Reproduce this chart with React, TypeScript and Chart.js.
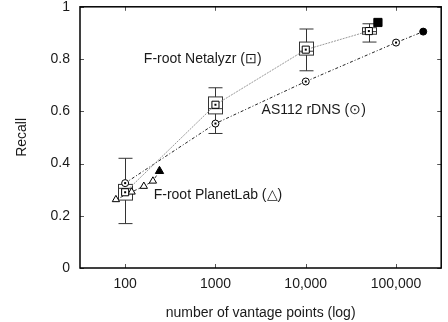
import React, { useEffect, useRef } from 'react';
import { Chart, registerables } from 'chart.js';

Chart.register(...registerables);

// ---- data ----
const xTickValues = [100, 1000, 10000, 100000];
const xTickLabels = ['100', '1000', '10,000', '100,000'];
const yTickValues = [0, 0.2, 0.4, 0.6, 0.8, 1];
const yTickLabels = ['0', '0.2', '0.4', '0.6', '0.8', '1'];

// F-root Netalyzr (box plots + mean marker)
const netalyzrX = [100, 1000, 10000, 50000];
const netalyzrMean = [0.29, 0.625, 0.836, 0.907];
const netalyzrMedian = [0.305, 0.61, 0.83, 0.905];
const netalyzrQ1 = [0.26, 0.59, 0.815, 0.895];
const netalyzrQ3 = [0.32, 0.655, 0.865, 0.92];
const netalyzrLow = [0.17, 0.515, 0.755, 0.865];
const netalyzrHigh = [0.42, 0.69, 0.915, 0.935];
const netalyzrFullX = [63000];
const netalyzrFullY = [0.94];

// AS112 rDNS
const as112X = [100, 1000, 10000, 100000, 200000];
const as112Y = [0.325, 0.553, 0.714, 0.863, 0.905];

// F-root PlanetLab
const planetLabX = [79, 118, 161, 203, 240];
const planetLabY = [0.262, 0.291, 0.313, 0.333, 0.371];

// annotation labels
const labelTexts = ['F-root Netalyzr (\u22A1)', 'AS112 rDNS (\u2299)', 'F-root PlanetLab (\u25B3)'];
const labelX = [161, 3240, 207];
const labelY = [0.80, 0.603, 0.279];

const FONT = "'Liberation Sans', Arial, Helvetica, sans-serif";
const TEXT = '#1a1a1a';

export default function App() {
  const ref = useRef<HTMLCanvasElement | null>(null);

  useEffect(() => {
    if (!ref.current) return;

    const netData = netalyzrX.map((x, i) => ({ x, y: netalyzrMean[i] }))
      .concat(netalyzrFullX.map((x, i) => ({ x, y: netalyzrFullY[i] })));
    const nOpen = netalyzrX.length;
    const asData = as112X.map((x, i) => ({ x, y: as112Y[i] }));
    const plData = planetLabX.map((x, i) => ({ x, y: planetLabY[i] }));

    const isLast = (arr: any[], i: number) => i === arr.length - 1;

    const decor = {
      id: 'decor',
      beforeDatasetsDraw(chart: any) {
        const { ctx, scales } = chart;
        const xs = scales.x;
        const ys = scales.y;
        ctx.save();
        ctx.strokeStyle = '#333';
        ctx.lineWidth = 1;
        netalyzrX.forEach((xv, i) => {
          const px = Math.round(xs.getPixelForValue(xv)) + 0.5;
          const yl = ys.getPixelForValue(netalyzrLow[i]);
          const yh = ys.getPixelForValue(netalyzrHigh[i]);
          const q1 = ys.getPixelForValue(netalyzrQ1[i]);
          const q3 = ys.getPixelForValue(netalyzrQ3[i]);
          const md = ys.getPixelForValue(netalyzrMedian[i]);
          const hw = 7;
          const cw = 7;
          ctx.beginPath();
          ctx.moveTo(px, yh); ctx.lineTo(px, q3);
          ctx.moveTo(px, q1); ctx.lineTo(px, yl);
          ctx.moveTo(px - cw, yh); ctx.lineTo(px + cw, yh);
          ctx.moveTo(px - cw, yl); ctx.lineTo(px + cw, yl);
          ctx.moveTo(px - hw, md); ctx.lineTo(px + hw, md);
          ctx.stroke();
          ctx.strokeRect(px - hw, q3, hw * 2, q1 - q3);
        });
        ctx.restore();
      },
      afterDatasetsDraw(chart: any) {
        const { ctx } = chart;
        ctx.save();
        ctx.fillStyle = '#000';
        [0, 1].forEach((di) => {
          const meta = chart.getDatasetMeta(di);
          const n = meta.data.length;
          meta.data.forEach((el: any, i: number) => {
            if (i === n - 1) return;
            ctx.fillRect(el.x - 1, el.y - 1, 2, 2);
          });
        });
        ctx.restore();
      },
      afterDraw(chart: any) {
        const { ctx, chartArea: a, scales } = chart;
        const xs = scales.x;
        const ys = scales.y;
        ctx.save();
        ctx.strokeStyle = '#555';
        ctx.lineWidth = 1;
        ctx.beginPath();
        xTickValues.forEach((v) => {
          const px = Math.round(xs.getPixelForValue(v)) + 0.5;
          ctx.moveTo(px, a.bottom); ctx.lineTo(px, a.bottom - 4);
          ctx.moveTo(px, a.top); ctx.lineTo(px, a.top + 4);
        });
        yTickValues.forEach((v) => {
          const py = Math.round(ys.getPixelForValue(v)) + 0.5;
          ctx.moveTo(a.left, py); ctx.lineTo(a.left + 4, py);
          ctx.moveTo(a.right, py); ctx.lineTo(a.right - 4, py);
        });
        ctx.stroke();
        ctx.strokeStyle = '#000';
        ctx.lineWidth = 1.5;
        ctx.strokeRect(a.left, a.top, a.right - a.left, a.bottom - a.top);
        ctx.fillStyle = TEXT;
        ctx.font = `14px ${FONT}`;
        ctx.textAlign = 'left';
        ctx.textBaseline = 'middle';
        labelTexts.forEach((t, i) => {
          ctx.fillText(t, xs.getPixelForValue(labelX[i]), ys.getPixelForValue(labelY[i]));
        });
        ctx.restore();
      },
    };

    const chart = new Chart(ref.current, {
      type: 'line',
      data: {
        datasets: [
          {
            label: 'F-root Netalyzr',
            data: netData,
            borderColor: '#999',
            borderWidth: 1,
            borderDash: [2, 1],
            pointStyle: 'rect',
            pointRadius: netData.map((_, i) => (i < nOpen ? 5 : 5.8)),
            pointBackgroundColor: netData.map((_, i) => (i < nOpen ? '#fff' : '#000')),
            pointBorderColor: '#000',
            pointBorderWidth: 1,
            fill: false,
          },
          {
            label: 'AS112 rDNS',
            data: asData,
            borderColor: '#222',
            borderWidth: 1,
            borderDash: [3, 2, 1, 2],
            pointStyle: 'circle',
            pointRadius: 3.5,
            pointBackgroundColor: asData.map((_, i) => (isLast(asData, i) ? '#000' : '#fff')),
            pointBorderColor: '#000',
            pointBorderWidth: 1,
            fill: false,
          },
          {
            label: 'F-root PlanetLab',
            data: plData,
            borderColor: '#333',
            borderWidth: 1,
            borderDash: [3, 2],
            pointStyle: 'triangle',
            pointRadius: plData.map((_, i) => (isLast(plData, i) ? 4.8 : 4.2)),
            pointBackgroundColor: plData.map((_, i) => (isLast(plData, i) ? '#000' : '#fff')),
            pointBorderColor: '#000',
            pointBorderWidth: 1,
            fill: false,
          },
        ],
      },
      options: {
        responsive: false,
        animation: false,
        devicePixelRatio: 1,
        layout: { padding: { top: 6, right: 1, left: 0, bottom: 0 } },
        plugins: { legend: { display: false }, tooltip: { enabled: false } },
        scales: {
          x: {
            type: 'logarithmic',
            min: Math.pow(10, 1.5),
            max: Math.pow(10, 5.5),
            grid: { display: false, drawTicks: false },
            border: { display: false },
            afterBuildTicks: (s: any) => {
              s.ticks = xTickValues.map((v) => ({ value: v }));
            },
            afterFit: (s: any) => {
              s.height = 54;
              s.paddingLeft = 0;
              s.paddingRight = 0;
            },
            ticks: {
              autoSkip: false,
              maxRotation: 0,
              padding: 8,
              color: TEXT,
              font: { family: FONT, size: 14 },
              callback: (v: any) => {
                const i = xTickValues.indexOf(Number(v));
                return i >= 0 ? xTickLabels[i] : '';
              },
            },
            title: {
              display: true,
              text: 'number of vantage points (log)',
              color: TEXT,
              font: { family: FONT, size: 14 },
              padding: { top: 0, bottom: 0 },
            },
          },
          y: {
            type: 'linear',
            min: 0,
            max: 1,
            grid: { display: false, drawTicks: false },
            border: { display: false },
            afterBuildTicks: (s: any) => {
              s.ticks = yTickValues.map((v) => ({ value: v }));
            },
            afterFit: (s: any) => {
              s.width = 80;
              s.paddingTop = 0;
              s.paddingBottom = 0;
            },
            ticks: {
              padding: 10,
              color: TEXT,
              font: { family: FONT, size: 14 },
              callback: (v: any) => {
                const i = yTickValues.findIndex((t) => Math.abs(t - Number(v)) < 1e-9);
                return i >= 0 ? yTickLabels[i] : '';
              },
            },
            title: {
              display: true,
              text: 'Recall',
              color: TEXT,
              font: { family: FONT, size: 14 },
              padding: { top: 14, bottom: 0 },
            },
          },
        },
      },
      plugins: [decor],
    });
    return () => chart.destroy();
  }, []);

  return (
    <div style={{ position: 'absolute', left: 0, top: 0, width: 448, height: 322, background: '#fff' }}>
      <canvas ref={ref} width={448} height={322} style={{ display: 'block', width: 448, height: 322 }} />
    </div>
  );
}
